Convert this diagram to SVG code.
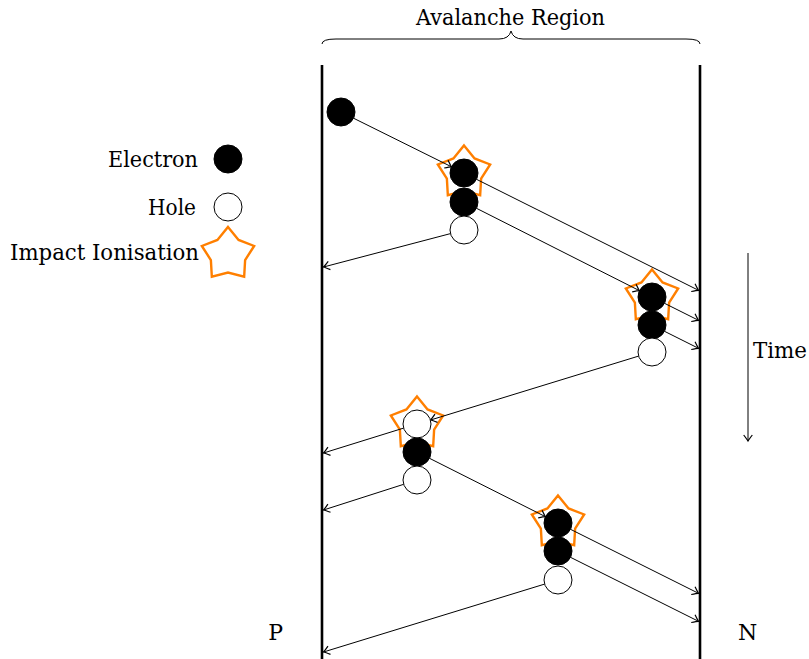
<svg xmlns="http://www.w3.org/2000/svg" width="809" height="659" viewBox="0 0 809 659">
<style>
.t{font-family:"DejaVu Serif",serif;font-size:22px;fill:#000}
.wall{stroke:#000;stroke-width:2.6;fill:none}
.c{stroke:#000;stroke-width:1;fill:none;marker-end:url(#ah)}
.e{fill:#000;stroke:#000;stroke-width:1}
.h{fill:#fff;stroke:#000;stroke-width:1}
.s{fill:none;stroke:#FF7F00;stroke-width:2.4;stroke-linejoin:miter}
</style>
<defs>
<marker id="ah" markerUnits="userSpaceOnUse" markerWidth="12" markerHeight="12" viewBox="-6 -5 8 10" refX="0" refY="0" orient="auto">
<path d="M-5,-3.6 Q-1.4,-0.8 0,0 Q-1.4,0.8 -5,3.6" fill="none" stroke="#000" stroke-width="1"/>
</marker>
<path id="star" d="M0,-27.5 L10.58,-14.56 L26.15,-8.5 L17.12,5.56 L16.16,22.25 L0,18 L-16.16,22.25 L-17.12,5.56 L-26.15,-8.5 L-10.58,-14.56 Z"/>
</defs>

<g id="title">
<text class="t" x="510.5" y="25" text-anchor="middle" textLength="189" lengthAdjust="spacingAndGlyphs">Avalanche Region</text>
<path d="M322,44 Q322,39 336,39 L499,39 Q509,39 511,31 Q513,39 523,39 L686,39 Q700,39 700,44" fill="none" stroke="#000" stroke-width="1"/>
</g>

<g id="walls">
<line class="wall" x1="322" y1="65" x2="322" y2="659"/>
<line class="wall" x1="700" y1="65" x2="700" y2="659"/>
</g>

<g id="labels">
<text class="t" x="283" y="640" text-anchor="end">P</text>
<text class="t" x="738" y="640">N</text>
</g>

<g id="legend">
<g id="legend-electron">
<text class="t" x="198" y="167" text-anchor="end" textLength="90" lengthAdjust="spacingAndGlyphs">Electron</text>
<circle class="e" cx="228" cy="159" r="14"/>
</g>
<g id="legend-hole">
<text class="t" x="196" y="215" text-anchor="end" textLength="48" lengthAdjust="spacingAndGlyphs">Hole</text>
<circle class="h" cx="228" cy="207" r="14"/>
</g>
<g id="legend-star">
<text class="t" x="199" y="260" text-anchor="end" textLength="189" lengthAdjust="spacingAndGlyphs">Impact Ionisation</text>
<use href="#star" class="s" transform="translate(228,254.5)"/>
</g>
</g>

<g id="time">
<line class="c" x1="748" y1="253" x2="748" y2="441"/>
<text class="t" x="753" y="358" textLength="54" lengthAdjust="spacingAndGlyphs">Time</text>
</g>

<g id="stars">
<use id="star1" href="#star" class="s" transform="translate(464,173)"/>
<use id="star2" href="#star" class="s" transform="translate(652,297)"/>
<use id="star3" href="#star" class="s" transform="translate(417,424)"/>
<use id="star4" href="#star" class="s" transform="translate(558,523)"/>
</g>

<g id="connectors">
<line class="c" x1="353.5" y1="118.2" x2="451.5" y2="166.8"/>
<line class="c" x1="476.5" y1="179.3" x2="698.5" y2="290.3"/>
<line class="c" x1="476.5" y1="208.3" x2="639.5" y2="290.7"/>
<line class="c" x1="664.5" y1="303.3" x2="698.5" y2="320.3"/>
<line class="c" x1="664.5" y1="331.3" x2="698.5" y2="348.3"/>
<line class="c" x1="429.5" y1="458.3" x2="545.5" y2="516.7"/>
<line class="c" x1="570.5" y1="529.3" x2="698.5" y2="593.3"/>
<line class="c" x1="570.5" y1="557.3" x2="698.5" y2="621.3"/>
<line class="c" x1="450.5" y1="233.6" x2="323.5" y2="267"/>
<line class="c" x1="638.6" y1="356.1" x2="430.5" y2="420"/>
<line class="c" x1="403.6" y1="428.1" x2="323.5" y2="453"/>
<line class="c" x1="403.7" y1="484.3" x2="323.5" y2="510"/>
<line class="c" x1="544.6" y1="584.1" x2="323.5" y2="652"/>
</g>

<g id="particles">
<circle id="e0" class="e" cx="341" cy="112" r="14"/>
<circle id="e1a" class="e" cx="464" cy="173" r="14"/>
<circle id="e1b" class="e" cx="464" cy="202" r="14"/>
<circle id="h1" class="h" cx="464" cy="230" r="14"/>
<circle id="e2a" class="e" cx="652" cy="297" r="14"/>
<circle id="e2b" class="e" cx="652" cy="325" r="14"/>
<circle id="h2" class="h" cx="652" cy="352" r="14"/>
<circle id="h3a" class="h" cx="417" cy="424" r="14"/>
<circle id="e3" class="e" cx="417" cy="452" r="14"/>
<circle id="h3b" class="h" cx="417" cy="480" r="14"/>
<circle id="e4a" class="e" cx="558" cy="523" r="14"/>
<circle id="e4b" class="e" cx="558" cy="551" r="14"/>
<circle id="h4" class="h" cx="558" cy="580" r="14"/>
</g>
</svg>
